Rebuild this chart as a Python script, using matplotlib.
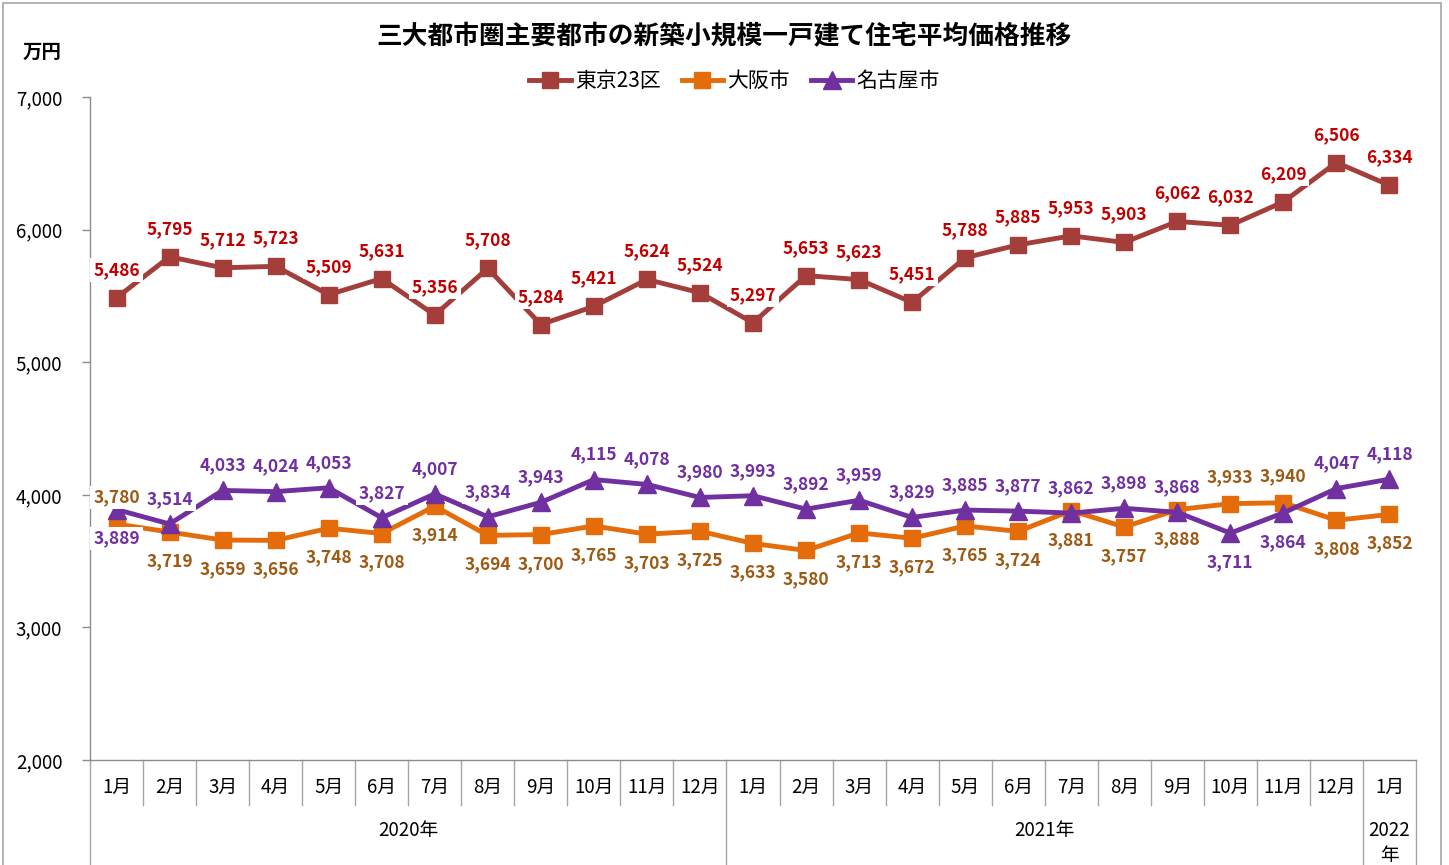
import numpy as np
import matplotlib.pyplot as plt
import matplotlib.transforms as mtransforms
from matplotlib.patches import Rectangle

plt.rcParams['font.family'] = ['Noto Sans CJK JP', 'DejaVu Sans']

months = ['1月', '2月', '3月', '4月', '5月', '6月', '7月', '8月', '9月', '10月', '11月', '12月',
          '1月', '2月', '3月', '4月', '5月', '6月', '7月', '8月', '9月', '10月', '11月', '12月',
          '1月']
years = ['2020年', '2021年', '2022\n年']
year_spans = [(0, 11), (12, 23), (24, 24)]

tokyo = [5486, 5795, 5712, 5723, 5509, 5631, 5356, 5708, 5284, 5421, 5624, 5524,
         5297, 5653, 5623, 5451, 5788, 5885, 5953, 5903, 6062, 6032, 6209, 6506, 6334]
osaka = [3780, 3719, 3659, 3656, 3748, 3708, 3914, 3694, 3700, 3765, 3703, 3725,
         3633, 3580, 3713, 3672, 3765, 3724, 3881, 3757, 3888, 3933, 3940, 3808, 3852]
# Feb 2020 point sits near 3,780 while its printed label reads 3,514
nagoya = [3889, 3780, 4033, 4024, 4053, 3827, 4007, 3834, 3943, 4115, 4078, 3980,
          3993, 3892, 3959, 3829, 3885, 3877, 3862, 3898, 3868, 3711, 3864, 4047, 4118]
nagoya_text = ['3,889', '3,514'] + [f'{v:,}' for v in nagoya[2:]]

osaka_above = [0, 21, 22]
nagoya_below = [0, 21, 22]

c_tokyo, c_tokyo_lbl = '#A33E3B', '#C00000'
c_osaka, c_osaka_lbl = '#E46C0A', '#9C5A14'
c_nagoya, c_nagoya_lbl = '#7030A0', '#7030A0'

fig = plt.figure(figsize=(14.49, 8.65), dpi=100)
ax = fig.add_axes([90 / 1449, 1 - 760 / 865, 1326 / 1449, 663 / 865])
x = np.arange(len(months))

ax.plot(x, tokyo, color=c_tokyo, lw=3.5, marker='s', ms=11.5, label='東京23区', zorder=3)
ax.plot(x, osaka, color=c_osaka, lw=3.5, marker='s', ms=11.5, label='大阪市', zorder=3)
ax.plot(x, nagoya, color=c_nagoya, lw=3.5, marker='^', ms=12.5, label='名古屋市', zorder=4)

box = dict(facecolor='white', edgecolor='none', pad=2.0)
lbl_kw = dict(ha='center', va='center', fontsize=12.5, fontweight='bold',
              textcoords='offset points', bbox=box, zorder=5)
for i, v in enumerate(tokyo):
    ax.annotate(f'{v:,}', (i, v), xytext=(0, 20), color=c_tokyo_lbl, **lbl_kw)
for i, v in enumerate(osaka):
    dy = 19 if i in osaka_above else -21
    ax.annotate(f'{v:,}', (i, v), xytext=(0, dy), color=c_osaka_lbl, **lbl_kw)
for i, v in enumerate(nagoya):
    dy = -21 if i in nagoya_below else 18
    ax.annotate(nagoya_text[i], (i, v), xytext=(0, dy), color=c_nagoya_lbl, **lbl_kw)

ax.set_xlim(-0.5, len(months) - 0.5)
ax.set_ylim(2000, 7000)
ax.set_yticks(range(2000, 7001, 1000))
ax.set_yticklabels([f'{t:,}' for t in range(2000, 7001, 1000)])
ax.tick_params(axis='y', length=6, width=1, color='#8C8C8C', labelsize=13.5, pad=14)
ax.set_xticks([])
for s in ['top', 'right']:
    ax.spines[s].set_visible(False)
for s in ['left', 'bottom']:
    ax.spines[s].set_color('#8C8C8C')
    ax.spines[s].set_linewidth(1)

# two-level category axis
trans = mtransforms.blended_transform_factory(ax.transData, ax.transAxes)
for i, m in enumerate(months):
    ax.text(i, -0.042, m, transform=trans, ha='center', va='center', fontsize=13.5)
year_edges = [a - 0.5 for a, b in year_spans] + [year_spans[-1][1] + 0.5]
for k in range(1, len(months)):
    edge = k - 0.5
    if edge not in year_edges:
        ax.plot([edge, edge], [0, -0.068], transform=trans, color='#A6A6A6', lw=1, clip_on=False)
for edge in year_edges:
    ax.plot([edge, edge], [0, -0.17], transform=trans, color='#A6A6A6', lw=1, clip_on=False)
for (a, b), y in zip(year_spans, years):
    yy = -0.125 if '\n' in y else -0.107
    ax.text((a + b) / 2, yy, y, transform=trans, ha='center', va='center', fontsize=13.5,
            linespacing=1.25)

fig.text(0.5, 1 - 37 / 865, '三大都市圏主要都市の新築小規模一戸建て住宅平均価格推移',
         ha='center', va='center', fontsize=18.5, fontweight='bold')
fig.text(42 / 1449, 1 - 52 / 865, '万円', ha='center', va='center', fontsize=14, fontweight='bold')
fig.legend(loc='center', bbox_to_anchor=(0.507, 1 - 81 / 865), ncol=3, frameon=False,
           fontsize=15, handlelength=2.0, handletextpad=0.2, columnspacing=1.0)

fig.patches.append(Rectangle((3 / 1449, -0.05), 1438 / 1449, 1.05 - 3 / 865, transform=fig.transFigure,
                             fill=False, edgecolor='#A6A6A6', lw=1.2))

fig.savefig('out.png', dpi=100)
